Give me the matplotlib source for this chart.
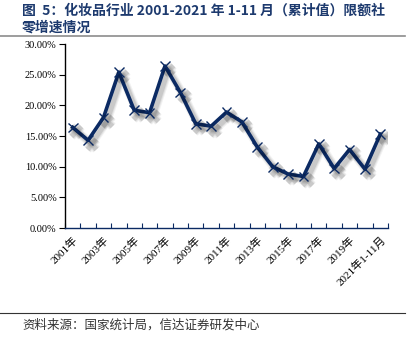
import matplotlib
matplotlib.use("Agg")
import matplotlib.pyplot as plt
import matplotlib.patheffects as pe
from matplotlib.ticker import FuncFormatter, FixedLocator

# Cosmetics retail growth, cumulative, 2001 - 2021 (Jan-Nov)
categories = [f"{y}年" for y in range(2001, 2021)] + ["2021年1-11月"]
growth = [16.4, 14.3, 18.0, 25.4, 19.2, 18.8, 26.4, 22.1, 17.0, 16.6,
          18.9, 17.3, 13.2, 10.0, 8.8, 8.4, 13.7, 9.7, 12.8, 9.6, 15.3]
yticks = [0, 5, 10, 15, 20, 25, 30]

navy = "#0b2a63"
title_color = "#1d3a6e"
serif_cjk = ["Liberation Serif", "Noto Sans CJK SC"]

fig = plt.figure(figsize=(4.19, 3.5), dpi=100)
ax = fig.add_axes([65 / 419, 1 - 228 / 350, (388 - 65) / 419, (228 - 44) / 350])

x = list(range(len(categories)))
# soft drop shadow built from a few widened, faint strokes
shadow = [pe.Stroke(offset=(2.5, -2.5), linewidth=lw, foreground="black", alpha=a)
          for lw, a in ((6.5, 0.05), (5.0, 0.07), (3.5, 0.10))]
ax.plot(x, growth, color=navy, lw=2.6, marker="x", ms=7, mew=1.0,
        mec=navy, solid_joinstyle="round", zorder=3,
        path_effects=shadow + [pe.Normal()])

ax.set_xlim(-0.5, len(categories) - 0.5)
ax.set_ylim(0, 30)

# y axis
ax.set_yticks(yticks)
ax.yaxis.set_major_formatter(FuncFormatter(lambda v, p: f"{v:.2f}%"))
ax.tick_params(axis="y", direction="out", length=4, width=0.8, color="black",
               labelsize=7.5, pad=2)
for lab in ax.get_yticklabels():
    lab.set_family(serif_cjk)

# x axis: boundary ticks pointing inward, labels on every other category
ax.xaxis.set_major_locator(FixedLocator([i - 0.5 for i in range(len(categories) + 1)]))
ax.xaxis.set_major_formatter(FuncFormatter(lambda v, p: ""))
ax.tick_params(axis="x", which="major", direction="in", length=3.5, width=0.8,
               color=navy)
label_pos = list(range(0, len(categories), 2))
ax.xaxis.set_minor_locator(FixedLocator(label_pos))
ax.set_xticklabels([categories[i] for i in label_pos], minor=True)
ax.tick_params(axis="x", which="minor", length=0, labelsize=8, pad=5)
for lab in ax.get_xticklabels(minor=True):
    lab.set_rotation(45)
    lab.set_ha("right")
    lab.set_va("top")
    lab.set_rotation_mode("anchor")
    lab.set_family(serif_cjk)

for s in ("top", "right"):
    ax.spines[s].set_visible(False)
ax.spines["left"].set_color("black")
ax.spines["left"].set_linewidth(1.0)
ax.spines["bottom"].set_color(navy)
ax.spines["bottom"].set_linewidth(1.0)

# Title block
fig.text(22 / 419, 1 - 11 / 350, "图  5：化妆品行业 2001-2021 年 1-11 月（累计值）限额社",
         fontsize=10, fontweight="bold", color=title_color, va="center",
         family=["Noto Sans CJK SC", "DejaVu Sans"])
fig.text(22 / 419, 1 - 28 / 350, "零增速情况",
         fontsize=10, fontweight="bold", color=title_color, va="center",
         family=["Noto Sans CJK SC", "DejaVu Sans"])
fig.add_artist(plt.Line2D([0, 405 / 419], [1 - 36 / 350, 1 - 36 / 350],
                          color="#8c8c8c", lw=1.2, transform=fig.transFigure))

# Source footer
fig.add_artist(plt.Line2D([0, 405 / 419], [1 - 313 / 350, 1 - 313 / 350],
                          color="#333333", lw=0.8, transform=fig.transFigure))
fig.text(22 / 419, 1 - 325 / 350, "资料来源：国家统计局，信达证券研发中心",
         fontsize=9, color="#333333", va="center", style="italic",
         family=["Noto Sans CJK SC", "DejaVu Sans"])

fig.savefig("out.png", dpi=100)
